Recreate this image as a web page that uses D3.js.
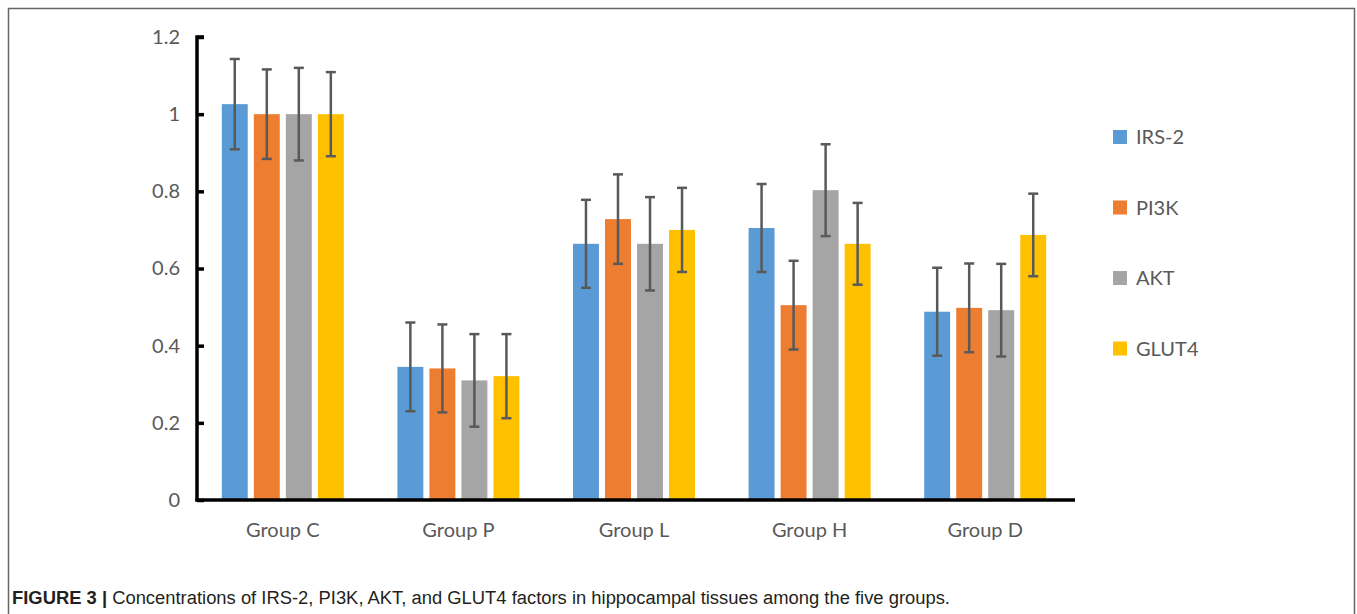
<!DOCTYPE html>
<html>
<head>
<meta charset="utf-8">
<script src="https://cdn.jsdelivr.net/npm/d3@7"></script>
<style>
  body { margin: 0; background: #fff; }
  svg { display: block; }
</style>
</head>
<body>
<div id="chart"></div>
<script>
(function () {

  // data
  var groups = ["Group C", "Group P", "Group L", "Group H", "Group D"];
  var seriesNames = ["IRS-2", "PI3K", "AKT", "GLUT4"];
  var colors = ["#5B9BD5", "#ED7D31", "#A5A5A5", "#FFC000"];

  var irs2 = [1.026, 0.345, 0.664, 0.705, 0.488];
  var pi3k = [1.0, 0.341, 0.728, 0.505, 0.498];
  var akt = [1.0, 0.31, 0.664, 0.803, 0.492];
  var glut4 = [1.0, 0.321, 0.70, 0.664, 0.687];

  var irs2Err = [0.117, 0.115, 0.114, 0.114, 0.114];
  var pi3kErr = [0.116, 0.114, 0.116, 0.115, 0.115];
  var aktErr = [0.12, 0.12, 0.121, 0.119, 0.12];
  var glut4Err = [0.109, 0.109, 0.109, 0.106, 0.107];

  var yTicks = [0, 0.2, 0.4, 0.6, 0.8, 1, 1.2];

  var values = [irs2, pi3k, akt, glut4];
  var errors = [irs2Err, pi3kErr, aktErr, glut4Err];

  var width = 1357;
  var height = 614;

  var svg = d3.select("#chart")
    .append("svg")
    .attr("width", width)
    .attr("height", height);

  // outer frame
  svg.append("path")
    .attr("d", "M8.5,620 L8.5,8.5 L1354.5,8.5 L1354.5,620")
    .attr("fill", "none")
    .attr("stroke", "#666")
    .attr("stroke-width", 1.5);

  var x = d3.scaleBand()
    .domain(groups)
    .range([195, 1073])
    .paddingInner(0)
    .paddingOuter(0);

  var xInner = d3.scaleBand()
    .domain(seriesNames)
    .range([0, 122])
    .paddingInner(0.19);

  var y = d3.scaleLinear()
    .domain([0, 1.2])
    .range([500, 37]);

  var offset = (x.bandwidth() - 122) / 2;

  // bars
  var rows = [];
  groups.forEach(function (g, gi) {
    seriesNames.forEach(function (s, si) {
      rows.push({ group: g, series: s, si: si, v: values[si][gi], e: errors[si][gi] });
    });
  });

  svg.selectAll(".bar")
    .data(rows)
    .enter()
    .append("rect")
    .attr("class", "bar")
    .attr("x", function (d) { return x(d.group) + offset + xInner(d.series); })
    .attr("y", function (d) { return y(d.v); })
    .attr("width", xInner.bandwidth())
    .attr("height", function (d) { return y(0) - y(d.v); })
    .attr("fill", function (d) { return colors[d.si]; });

  // error bars
  var eb = svg.selectAll(".err")
    .data(rows)
    .enter()
    .append("g")
    .attr("class", "err")
    .attr("stroke", "#595959")
    .attr("stroke-width", 2.5);

  function cx(d) { return x(d.group) + offset + xInner(d.series) + xInner.bandwidth() / 2; }

  eb.append("line")
    .attr("x1", cx).attr("x2", cx)
    .attr("y1", function (d) { return y(d.v + d.e); })
    .attr("y2", function (d) { return y(d.v - d.e); });
  eb.append("line")
    .attr("x1", function (d) { return cx(d) - 5; })
    .attr("x2", function (d) { return cx(d) + 5; })
    .attr("y1", function (d) { return y(d.v + d.e); })
    .attr("y2", function (d) { return y(d.v + d.e); });
  eb.append("line")
    .attr("x1", function (d) { return cx(d) - 5; })
    .attr("x2", function (d) { return cx(d) + 5; })
    .attr("y1", function (d) { return y(d.v - d.e); })
    .attr("y2", function (d) { return y(d.v - d.e); });

  // y axis
  var yAxis = svg.append("g")
    .attr("transform", "translate(197,0)")
    .call(d3.axisRight(y).tickValues(yTicks).tickSize(7).tickFormat(function (d) { return d3.format("")(+d.toFixed(1)); }));
  yAxis.select(".domain").attr("stroke", "#000").attr("stroke-width", 3.5)
    .attr("d", "M7," + y(1.2) + "H0V" + (y(0) + 1.5));
  yAxis.selectAll(".tick line").attr("stroke", "#000").attr("stroke-width", 3.5);
  yAxis.selectAll(".tick text")
    .attr("x", -17)
    .attr("text-anchor", "end")
    .attr("fill", "#595959")
    .style("font-family", "Lato, 'Open Sans', sans-serif")
    .style("font-size", "20px");

  // x axis
  var xAxis = svg.append("g")
    .attr("transform", "translate(0,500)")
    .call(d3.axisBottom(x).tickSize(0).tickPadding(23));
  xAxis.select(".domain").attr("stroke", "#000").attr("stroke-width", 3.5)
    .attr("d", "M195.5,0H1075");
  xAxis.selectAll(".tick text")
    .attr("fill", "#595959")
    .style("font-family", "Lato, 'Open Sans', sans-serif")
    .style("font-size", "20px");

  // legend
  var legend = svg.selectAll(".legend")
    .data(seriesNames)
    .enter()
    .append("g")
    .attr("class", "legend")
    .attr("transform", function (d, i) { return "translate(1113," + (137 + i * 70.5) + ")"; });
  legend.append("rect")
    .attr("x", 0).attr("y", -7)
    .attr("width", 14).attr("height", 14)
    .attr("fill", function (d, i) { return colors[i]; });
  legend.append("text")
    .attr("x", 23)
    .attr("dy", "0.36em")
    .attr("fill", "#595959")
    .style("font-family", "Lato, 'Open Sans', sans-serif")
    .style("font-size", "20px")
    .text(function (d) { return d; });

  // caption
  var cap = svg.append("text")
    .attr("x", 12)
    .attr("y", 604)
    .attr("fill", "#231f20")
    .style("font-family", "'Liberation Sans Narrow', 'Liberation Sans', Arial, sans-serif")
    .style("font-size", "18px")
    .attr("textLength", 938)
    .attr("lengthAdjust", "spacingAndGlyphs");
  cap.append("tspan").style("font-weight", "bold").text("FIGURE 3 | ");
  cap.append("tspan").text("Concentrations of IRS-2, PI3K, AKT, and GLUT4 factors in hippocampal tissues among the five groups.");

})();
</script>
</body>
</html>
